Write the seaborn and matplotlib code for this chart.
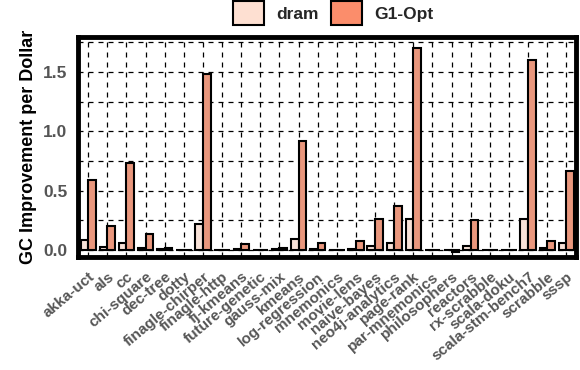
import matplotlib
matplotlib.use("Agg")
import matplotlib.pyplot as plt
import seaborn as sns
import pandas as pd
from matplotlib.patches import Patch
from matplotlib.ticker import MultipleLocator

benchmarks = [
    "akka-uct", "als", "cc", "chi-square", "dec-tree", "dotty",
    "finagle-chirper", "finagle-http", "fj-kmeans", "future-genetic",
    "gauss-mix", "kmeans", "log-regression", "mnemonics", "movie-lens",
    "naive-bayes", "neo4j-analytics", "page-rank", "par-mnemonics",
    "philosophers", "reactors", "rx-scrabble", "scala-doku",
    "scala-stm-bench7", "scrabble", "sssp",
]
dram = [0.084, 0.028, 0.060, 0.020, 0.010, 0.003,
        0.218, 0.002, 0.008, 0.002,
        0.005, 0.090, 0.010, 0.002, 0.012,
        0.036, 0.061, 0.258, 0.002,
        0.003, 0.034, 0.002, 0.002,
        0.260, 0.017, 0.061]
g1_opt = [0.594, 0.200, 0.730, 0.134, 0.020, 0.003,
          1.485, 0.002, 0.048, 0.003,
          0.020, 0.918, 0.060, 0.003, 0.078,
          0.258, 0.375, 1.700, 0.003,
          -0.020, 0.252, 0.003, 0.003,
          1.600, 0.078, 0.664]
configs = ["dram", "G1-Opt"]
colors = ["#FEE0D2", "#FB8D6B"]

df = pd.DataFrame({
    "benchmark": benchmarks * 2,
    "value": dram + g1_opt,
    "config": [configs[0]] * len(benchmarks) + [configs[1]] * len(benchmarks),
})

sns.set_style("white")
plt.rcParams["font.family"] = ["Liberation Sans", "DejaVu Sans"]

fig = plt.figure(figsize=(5.8, 3.7), dpi=100)
ax = fig.add_axes([0.134, 0.305, 0.859, 0.595])

sns.barplot(data=df, x="benchmark", y="value", hue="config",
            palette=colors, edgecolor="black", linewidth=1.5,
            width=0.8, ax=ax, legend=False, zorder=3)

ax.set_xlim(-0.55, 25.5)
ax.set_ylim(-0.06, 1.795)
ax.yaxis.set_major_locator(MultipleLocator(0.5))
ax.yaxis.set_minor_locator(MultipleLocator(0.25))
ax.grid(True, which="both", axis="y", color="black", linestyle=(0, (4, 4)), linewidth=0.9, zorder=0)
ax.grid(True, which="major", axis="x", color="black", linestyle=(0, (4, 4)), linewidth=0.9, zorder=0)
ax.set_axisbelow(True)

for s in ax.spines.values():
    s.set_linewidth(3.5)
    s.set_color("black")

ax.tick_params(axis="both", which="major", direction="out", length=4, width=1.2, color="#333333")
ax.tick_params(axis="x", pad=5)
ax.tick_params(axis="y", which="minor", length=0)
ax.set_xticks(range(len(benchmarks)))
ax.set_xticklabels(benchmarks, rotation=40, ha="right", rotation_mode="anchor",
                   fontsize=11, fontweight="bold", color="#555555")
for lbl in ax.get_yticklabels():
    lbl.set_fontsize(12.5)
    lbl.set_fontweight("bold")
    lbl.set_color("#555555")
ax.set_xlabel("")
ax.set_ylabel("GC Improvement per Dollar", fontsize=13, fontweight="bold",
              color="black", labelpad=4)

handles = [Patch(facecolor=c, edgecolor="black", linewidth=1.5) for c in colors]
ax.legend(handles, configs, loc="lower center", bbox_to_anchor=(0.513, 1.005),
          ncol=2, frameon=False, handlelength=1.78, handleheight=1.75,
          columnspacing=0.7, handletextpad=0.7, borderpad=0.1,
          prop={"weight": "bold", "size": 12.5})

fig.savefig("out.png", dpi=100)
